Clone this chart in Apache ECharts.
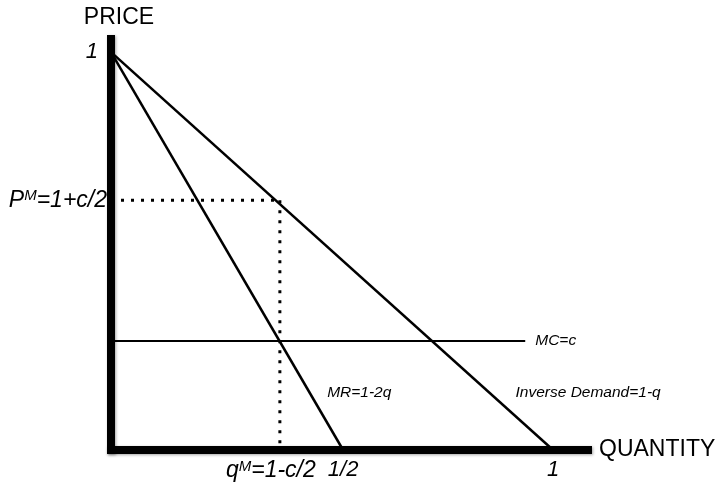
<!DOCTYPE html>
<html>
<head>
<meta charset="utf-8">
<script src="https://cdn.jsdelivr.net/npm/echarts@6/dist/echarts.min.js"></script>
<style>
  html, body { margin: 0; padding: 0; background: #fff; }
  #chart { width: 724px; height: 485px; }
</style>
</head>
<body>
<div id="chart"></div>
<script>
// values (quantity, price)
const demandLine = [[0, 1], [1, 0]];
const mrLine = [[0, 1], [0.525, 0]];
const mcLine = [[0, 0.274], [0.937, 0.274]];
const monoQ = 0.382;
const monoP = 0.628;
const priceDots = [[0, monoP], [monoQ, monoP]];
const quantityDots = [[monoQ, monoP], [monoQ, 0]];
const xTicks = [monoQ, 0.525, 1];
const yTicks = [monoP, 1];

const FONT = "Liberation Sans";
const chart = echarts.init(document.getElementById("chart"));

const axisLine = {
    lineStyle: {
        color: "#000", width: 8, cap: "square",
        shadowColor: "rgba(0,0,0,0.35)", shadowBlur: 3, shadowOffsetX: 1, shadowOffsetY: 1,
    },
};
const txt = { fontSize: 23, fontStyle: "italic", fontFamily: FONT, color: "#000" };
const sup = { fontSize: 15, fontStyle: "italic", fontFamily: FONT, color: "#000", padding: [0, 0, 9, 0] };
const small = { fontFamily: FONT, fontSize: 15.5, fontStyle: "italic", color: "#000" };

chart.setOption({
    animation: false,
    backgroundColor: "#fff",
    grid: { left: 111, right: 136, top: 39, bottom: 35 },
    xAxis: {
        type: "value", min: 0, max: 1.079,
        name: "QUANTITY", nameLocation: "end", nameGap: 11,
        nameTextStyle: { fontFamily: FONT, fontSize: 23, color: "#000" },
        axisLine, axisTick: { show: false }, splitLine: { show: false },
        axisLabel: {
            customValues: xTicks, margin: 9,
            ...txt,
            formatter: (v) => v === monoQ ? "{a|q}{s|M}{a|=1-c/2}{g| }" : v === 1 ? "{b|1}" : "{b|1/2}",
            rich: { a: txt, b: { ...txt, fontSize: 22 }, s: sup, g: { width: 18 } },
        },
    },
    yAxis: {
        type: "value", min: 0, max: 1.033,
        name: "PRICE", nameLocation: "end", nameGap: 10,
        nameTextStyle: { fontFamily: FONT, fontSize: 23, color: "#000", align: "center", padding: [0, 0, 0, 16] },
        axisLine, axisTick: { show: false }, splitLine: { show: false },
        axisLabel: {
            customValues: yTicks, margin: 4,
            ...txt,
            formatter: (v) => v === 1 ? "{b|1}{g| }" : "{a|P}{s|M}{a|=1+c/2}",
            rich: { a: txt, b: { ...txt, fontSize: 22 }, s: sup, g: { width: 9 } },
        },
    },
    series: [
        {
            name: "Inverse Demand", type: "line", data: demandLine, symbol: "none",
            lineStyle: { color: "#000", width: 2.5 },
            markPoint: {
                symbol: "circle", symbolSize: 0,
                data: [{ coord: [0.915, 0.143], label: { show: true, formatter: "Inverse Demand=1-q", position: "right", distance: 0, ...small } }],
            },
        },
        {
            name: "MR", type: "line", data: mrLine, symbol: "none",
            lineStyle: { color: "#000", width: 2.5 },
            markPoint: {
                symbol: "circle", symbolSize: 0,
                data: [{ coord: [0.489, 0.143], label: { show: true, formatter: "MR=1-2q", position: "right", distance: 0, ...small } }],
            },
        },
        {
            name: "MC", type: "line", data: mcLine, symbol: "none",
            lineStyle: { color: "#000", width: 2 },
            endLabel: { show: true, formatter: "MC=c", distance: 10, ...small },
        },
        {
            name: "price dots", type: "line", data: priceDots, symbol: "none",
            lineStyle: { color: "#000", width: 3, type: [3, 7] },
        },
        {
            name: "quantity dots", type: "line", data: quantityDots, symbol: "none",
            lineStyle: { color: "#000", width: 3, type: [3, 7] },
        },
    ],
});
</script>
</body>
</html>
